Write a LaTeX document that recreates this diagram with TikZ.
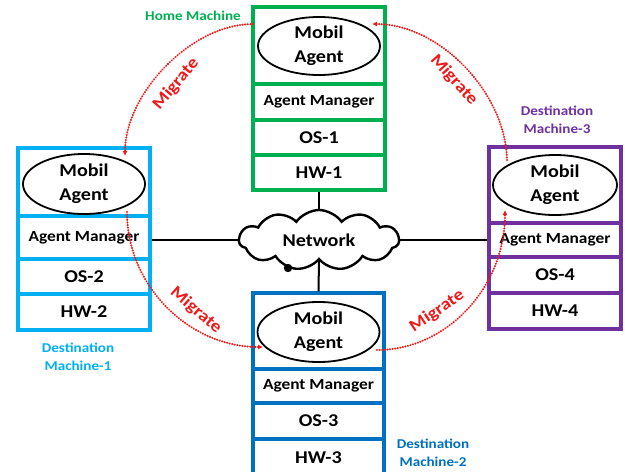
\documentclass[tikz,border=0pt]{standalone}
\usepackage{fontspec}
\setmainfont{Carlito}[FakeStretch=1.12]
\usetikzlibrary{shapes.geometric,shapes.symbols,arrows.meta}
\definecolor{homegreen}{HTML}{00B050}
\definecolor{destcyan}{HTML}{00B0F0}
\definecolor{destblue}{HTML}{0070C0}
\definecolor{destpurple}{HTML}{7030A0}
\definecolor{migred}{HTML}{F01818}
\begin{document}
\begin{tikzpicture}[x=1pt,y=-1pt,
  >={Latex[length=5pt,width=5pt]},
  cell/.style={draw=#1, line width=3.2pt, minimum width=132pt, inner sep=0pt,
    font=\fontsize{18}{22}\selectfont\bfseries},
  amcell/.style={cell=#1, font=\fontsize{15.5}{18}\selectfont\bfseries},
  agent/.style={draw=black, line width=1.8pt, ellipse, fill=white, inner sep=0pt,
    minimum width=122pt, minimum height=58pt, align=center,
    font=\fontsize{18}{24}\selectfont\bfseries},
  link/.style={draw=black, line width=2pt},
  migrate/.style={draw=migred, line width=2.2pt, line cap=round, dash pattern=on 0.1pt off 2.5pt},
  miglabel/.style={text=migred, font=\fontsize{17}{20}\selectfont\bfseries, inner sep=0pt},
  machlabel/.style={font=\fontsize{13.5}{18}\selectfont\bfseries, align=center, inner sep=0pt}
]
\useasboundingbox (0,0) rectangle (625,472);
\fill[white] (0,0) rectangle (625,472);
\clip (0,0) rectangle (625,472);

% ---- network cloud
\node[cloud, draw=black, line width=2.4pt, fill=white, cloud puffs=11, cloud puff arc=110,
      aspect=2.7, minimum width=160pt, minimum height=60pt, inner sep=0pt,
      font=\fontsize{18}{22}\selectfont\bfseries] (net) at (319,240) {Network};

% ---- home machine
\node[cell=homegreen, minimum height=77pt] (h-top) at (319,45.5) {};
\node[amcell=homegreen, minimum height=36pt] (h-am) at (319,102) {Agent Manager};
\node[cell=homegreen, minimum height=35pt] (h-os) at (319,137.5) {OS-1};
\node[cell=homegreen, minimum height=35pt] (h-hw) at (319,172.5) {HW-1};
\node[agent] (h-ag) at (319,46) {Mobil\\Agent};

% ---- destination machine 1
\node[cell=destcyan, minimum height=68pt] (l-top) at (84,182) {};
\node[amcell=destcyan, minimum height=43pt] (l-am) at (84,237.5) {Agent Manager};
\node[cell=destcyan, minimum height=35pt] (l-os) at (84,276.5) {OS-2};
\node[cell=destcyan, minimum height=36pt] (l-hw) at (84,312) {HW-2};
\node[agent, minimum height=60pt] (l-ag) at (84,184) {Mobil\\Agent};

% ---- destination machine 3
\node[cell=destpurple, minimum height=76pt] (r-top) at (555,185) {};
\node[amcell=destpurple, minimum height=34pt] (r-am) at (555,240) {Agent Manager};
\node[cell=destpurple, minimum height=36pt] (r-os) at (555,275) {OS-4};
\node[cell=destpurple, minimum height=36pt] (r-hw) at (555,311) {HW-4};
\node[agent, minimum width=124pt, minimum height=60pt] (r-ag) at (555,185) {Mobil\\Agent};

% ---- destination machine 2
\node[cell=destblue, minimum width=131pt, minimum height=76pt] (b-top) at (318.5,331) {};
\node[amcell=destblue, minimum width=131pt, minimum height=34pt] (b-am) at (318.5,386) {Agent Manager};
\node[cell=destblue, minimum width=131pt, minimum height=36pt] (b-os) at (318.5,421) {OS-3};
\node[cell=destblue, minimum width=131pt, minimum height=37pt] (b-hw) at (318.5,457.5) {HW-3};
\node[agent, minimum height=60pt] (b-ag) at (318.5,332) {Mobil\\Agent};

% ---- network links
\draw[link] (net.west -| l-am.east) -- (net.west);
\draw[link] (net.east) -- (net.east -| r-am.west);
\draw[link] (h-hw.south) -- (net.north);
\draw[link] (net.south) -- (b-top.north);
\fill[black] (net.center) ++(-31,28) circle (4.2pt) coordinate (net-dot);

% ---- migration paths between the agents
\coordinate (tl-s) at (253,24);
\coordinate (tl-e) at (125,156);
\coordinate (tr-s) at (372,24);
\coordinate (tr-e) at (507,162);
\coordinate (bl-s) at (127,212);
\coordinate (bl-e) at (263,347);
\coordinate (br-s) at (377,350);
\coordinate (br-e) at (505,210);
\draw[migrate, ->] (tl-s) .. controls (191,24) and (125,94) .. (tl-e);
\draw[migrate, <-] (tr-s) .. controls (440,24) and (507,94) .. (tr-e);
\draw[migrate, ->] (bl-s) .. controls (127,286) and (189,347) .. (bl-e);
\draw[migrate, ->] (br-s) .. controls (447,350) and (505,287) .. (br-e);

\node[miglabel, rotate=50] (m-tl) at (176,84) {Migrate};
\node[miglabel, rotate=-48] (m-tr) at (454,80) {Migrate};
\node[miglabel, rotate=-41] (m-bl) at (196,310) {Migrate};
\node[miglabel, rotate=34] (m-br) at (437,311) {Migrate};

% ---- machine captions
\node[machlabel, text=homegreen] (cap-h) at (193,16) {Home Machine};
\node[machlabel, text=destcyan] (cap-1) at (78,357) {Destination\\Machine-1};
\node[machlabel, text=destblue] (cap-2) at (433,453) {Destination\\Machine-2};
\node[machlabel, text=destpurple] (cap-3) at (557,120) {Destination\\Machine-3};
\end{tikzpicture}
\end{document}
